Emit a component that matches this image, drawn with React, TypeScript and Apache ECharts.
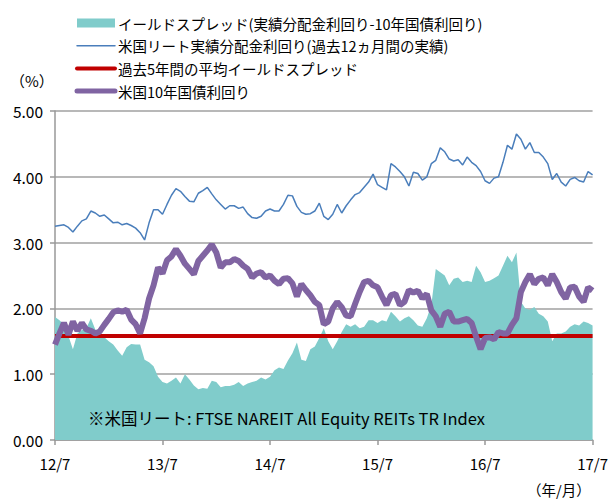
import React, { useEffect, useRef } from "react";
import * as echarts from "echarts";

// Half-month steps from 2012/7 (index 0) to 2017/7 (index 120)
const xTickLabels = ["12/7", "13/7", "14/7", "15/7", "16/7", "17/7"];

const reitYield = [
  3.25, 3.26, 3.27, 3.23, 3.16, 3.25, 3.33, 3.36, 3.48, 3.45, 3.40, 3.42, 3.36, 3.30, 3.31, 3.27,
  3.29, 3.26, 3.22, 3.15, 3.04, 3.30, 3.50, 3.50, 3.43, 3.58, 3.72, 3.82, 3.78, 3.70, 3.63,
  3.62, 3.75, 3.79, 3.84, 3.74, 3.65, 3.58, 3.51, 3.56, 3.56, 3.52, 3.54, 3.44, 3.38, 3.37, 3.40,
  3.48, 3.51, 3.48, 3.48, 3.58, 3.72, 3.71, 3.55, 3.46, 3.43, 3.44, 3.48, 3.60, 3.40,
  3.35, 3.43, 3.58, 3.45, 3.56, 3.65, 3.73, 3.76, 3.84, 3.92, 4.04, 3.88, 3.84, 3.80, 4.20, 4.15,
  4.08, 4.00, 3.86, 4.07, 4.05, 3.95, 4.00, 4.20, 4.25, 4.44, 4.38, 4.27, 4.24, 4.26,
  4.18, 4.30, 4.22, 4.17, 4.08, 3.94, 3.90, 3.98, 4.00, 4.22, 4.48, 4.42, 4.65, 4.57, 4.42, 4.52,
  4.37, 4.37, 4.30, 4.20, 3.96, 4.05, 3.92, 3.86, 3.96, 3.99, 3.94, 3.92, 4.08, 4.03,
];

const treasury10y = [
  1.45, 1.62, 1.78, 1.60, 1.80, 1.66, 1.78, 1.68, 1.66, 1.62, 1.65, 1.75, 1.84, 1.94, 1.97, 1.95,
  1.98, 1.83, 1.76, 1.62, 1.85, 2.15, 2.35, 2.62, 2.53, 2.73, 2.79, 2.90, 2.80, 2.68, 2.60,
  2.52, 2.72, 2.80, 2.88, 2.97, 2.85, 2.62, 2.70, 2.70, 2.75, 2.72, 2.65, 2.60, 2.47, 2.53, 2.55,
  2.47, 2.50, 2.42, 2.37, 2.45, 2.46, 2.38, 2.18, 2.37, 2.28, 2.20, 2.10, 2.05, 1.76,
  1.80, 2.00, 2.10, 2.02, 1.89, 1.88, 2.07, 2.25, 2.40, 2.42, 2.35, 2.32, 2.18, 2.05, 2.20, 2.22,
  2.05, 2.10, 2.28, 2.24, 2.27, 2.15, 2.22, 1.97, 1.88, 1.72, 1.92, 1.95, 1.80, 1.80,
  1.82, 1.84, 1.78, 1.57, 1.38, 1.55, 1.56, 1.53, 1.64, 1.62, 1.62, 1.75, 1.85, 2.25, 2.40, 2.52,
  2.37, 2.45, 2.47, 2.35, 2.52, 2.40, 2.25, 2.15, 2.32, 2.33, 2.18, 2.10, 2.32, 2.27,
];

const yieldSpread = [
  1.87, 1.82, 1.75, 1.58, 1.38, 1.62, 1.67, 1.70, 1.85, 1.68, 1.62, 1.56, 1.50, 1.45, 1.36, 1.28,
  1.41, 1.46, 1.45, 1.45, 1.22, 1.18, 1.12, 0.96, 0.88, 0.86, 0.90, 0.95, 0.86, 1.00, 0.92,
  0.83, 0.77, 0.79, 0.78, 0.90, 0.88, 0.80, 0.82, 0.82, 0.84, 0.88, 0.82, 0.86, 0.88, 0.90, 0.95,
  0.92, 0.96, 1.06, 1.10, 1.08, 1.21, 1.32, 1.48, 1.22, 1.20, 1.38, 1.42, 1.55, 1.70,
  1.50, 1.38, 1.50, 1.64, 1.76, 1.72, 1.76, 1.70, 1.72, 1.82, 1.82, 1.78, 1.82, 1.80, 1.95, 1.88,
  1.80, 1.85, 1.88, 1.82, 1.74, 1.72, 1.85, 2.05, 2.60, 2.55, 2.50, 2.35, 2.45, 2.47,
  2.40, 2.42, 2.40, 2.65, 2.55, 2.40, 2.42, 2.46, 2.50, 2.65, 2.80, 2.70, 2.85, 2.10, 2.00, 1.98,
  2.02, 1.92, 1.88, 1.80, 1.50, 1.62, 1.62, 1.65, 1.72, 1.76, 1.74, 1.80, 1.78, 1.74,
];

const averageSpread = 1.58;

const seriesNames = [
  "イールドスプレッド(実績分配金利回り-10年国債利回り)",
  "米国リート実績分配金利回り(過去12ヵ月間の実績)",
  "過去5年間の平均イールドスプレッド",
  "米国10年国債利回り",
];
const seriesColors = ["#80cccb", "#4a7ebb", "#c00000", "#8064a2"];
const legendLineWidths = [0, 1.5, 4, 5];

const FONT = "'Noto Sans CJK JP', 'Noto Sans', sans-serif";

export default function App() {
  const ref = useRef<HTMLDivElement>(null);

  useEffect(() => {
    if (!ref.current) return;
    const chart = echarts.init(ref.current, undefined, { renderer: "svg" });
    const pts = (arr: number[]) => arr.map((v, i) => [i / 2, v]);

    const legendGraphics: any[] = [];
    seriesNames.forEach((name, i) => {
      const cy = 23 + i * 22.7;
      if (i === 0) {
        legendGraphics.push({
          type: "rect",
          shape: { x: 77, y: cy - 4.5, width: 38, height: 9 },
          style: { fill: seriesColors[i] },
        });
      } else {
        legendGraphics.push({
          type: "line",
          shape: { x1: 77, y1: cy, x2: 115, y2: cy },
          style: { stroke: seriesColors[i], lineWidth: legendLineWidths[i], lineCap: "round" },
        });
      }
      legendGraphics.push({
        type: "text",
        x: 118,
        y: cy,
        style: {
          text: name,
          fontSize: 14.5,
          fill: "#000",
          fontFamily: FONT,
          verticalAlign: "middle",
          align: "left",
        },
      });
    });

    chart.setOption({
      animation: false,
      backgroundColor: "#ffffff",
      textStyle: { fontFamily: FONT },
      grid: { left: 55, right: 18, top: 111, bottom: 59 },
      xAxis: {
        type: "value",
        min: 0,
        max: 60,
        interval: 12,
        axisLine: { show: true, lineStyle: { color: "#999", width: 1.5 } },
        axisTick: { show: true, length: 5, lineStyle: { color: "#999", width: 1.5 } },
        splitLine: { show: false },
        axisLabel: {
          fontSize: 15,
          color: "#000",
          margin: 16,
          fontFamily: FONT,
          formatter: (v: number) => xTickLabels[Math.round(v / 12)] ?? "",
        },
      },
      yAxis: {
        type: "value",
        min: 0,
        max: 5,
        interval: 1,
        axisLine: { show: true, lineStyle: { color: "#999", width: 1.5 } },
        axisTick: { show: true, length: 5, lineStyle: { color: "#999", width: 1.5 } },
        splitLine: { show: true, lineStyle: { color: "#a0a0a0", width: 1.5 } },
        axisLabel: {
          fontSize: 15.5,
          color: "#000",
          margin: 12,
          fontFamily: FONT,
          formatter: (v: number) => v.toFixed(2),
        },
      },
      series: [
        {
          name: seriesNames[0],
          type: "line",
          data: pts(yieldSpread),
          showSymbol: false,
          symbol: "none",
          lineStyle: { width: 0, color: seriesColors[0] },
          itemStyle: { color: seriesColors[0] },
          areaStyle: { color: seriesColors[0], opacity: 1 },
          z: 1,
        },
        {
          name: seriesNames[1],
          type: "line",
          data: pts(reitYield),
          showSymbol: false,
          symbol: "none",
          lineStyle: { width: 1.5, color: seriesColors[1] },
          itemStyle: { color: seriesColors[1] },
          z: 2,
        },
        {
          name: seriesNames[2],
          type: "line",
          data: [
            [0, averageSpread],
            [60, averageSpread],
          ],
          showSymbol: false,
          symbol: "none",
          lineStyle: { width: 4, color: seriesColors[2] },
          itemStyle: { color: seriesColors[2] },
          z: 3,
        },
        {
          name: seriesNames[3],
          type: "line",
          data: pts(treasury10y),
          showSymbol: false,
          symbol: "none",
          lineStyle: { width: 6, color: seriesColors[3] },
          itemStyle: { color: seriesColors[3] },
          z: 4,
        },
      ],
      graphic: [
        ...legendGraphics,
        {
          type: "text",
          x: 10,
          y: 80,
          style: {
            text: "（%）",
            fontSize: 15,
            fill: "#000",
            fontFamily: FONT,
            verticalAlign: "middle",
          },
        },
        {
          type: "text",
          x: 527,
          y: 489,
          style: {
            text: "（年/月）",
            fontSize: 14.5,
            fill: "#000",
            fontFamily: FONT,
            verticalAlign: "middle",
          },
        },
        {
          type: "text",
          x: 88,
          y: 418,
          z: 10,
          style: {
            text: "※米国リート: FTSE NAREIT All Equity REITs TR Index",
            fontSize: 16.5,
            fill: "#000",
            fontFamily: FONT,
            verticalAlign: "middle",
          },
        },
      ],
    });
    return () => chart.dispose();
  }, []);

  return (
    <div
      ref={ref}
      style={{ position: "fixed", left: 0, top: 0, width: 611, height: 499 }}
    />
  );
}
